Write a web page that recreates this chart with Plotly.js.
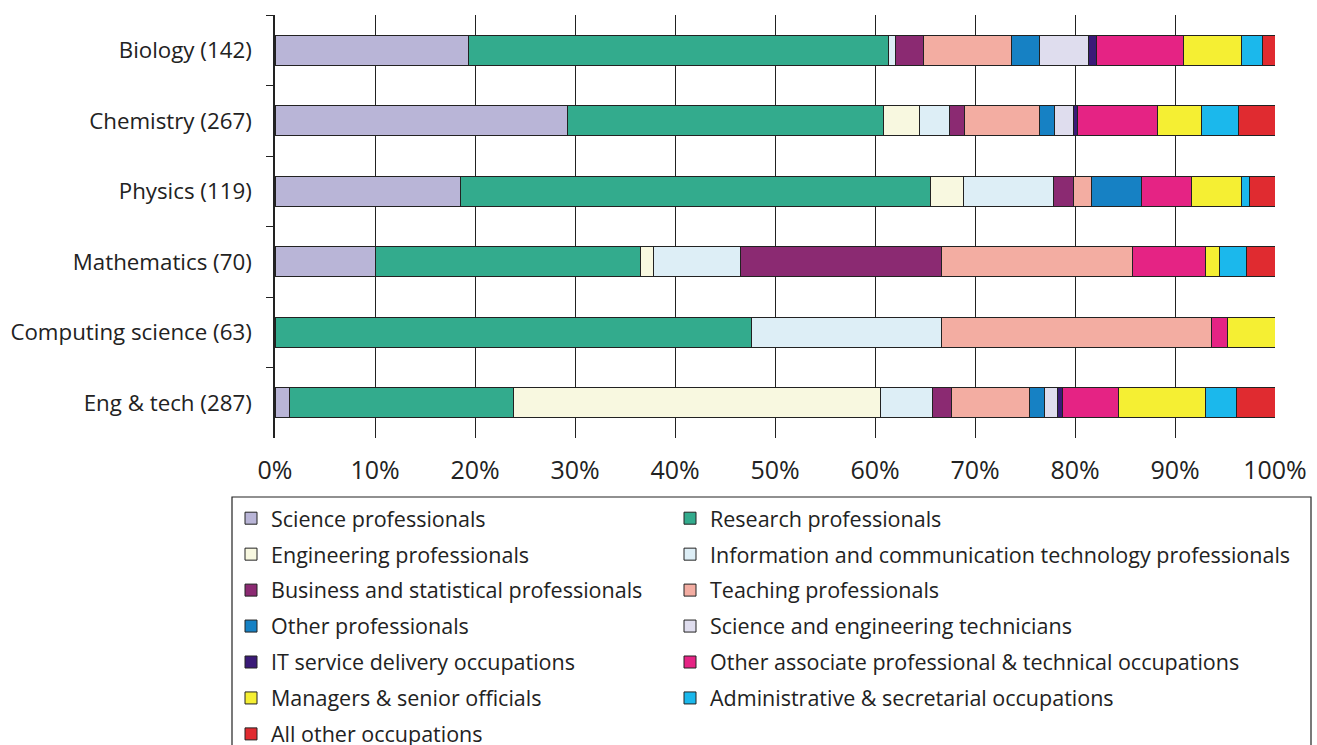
<!DOCTYPE html>
<html>
<head>
<meta charset="utf-8">
<script src="https://cdn.plot.ly/plotly-3.0.1.min.js"></script>
<style>html,body{margin:0;padding:0;background:#fff;}#chart{width:1317px;height:745px;}</style>
</head>
<body>
<div id="chart"></div>
<script>
// Categories (top to bottom)
var categories = ["Biology (142)", "Chemistry (267)", "Physics (119)", "Mathematics (70)", "Computing science (63)", "Eng & tech (287)"];

// Series names
var seriesNames = [
  "Science professionals",
  "Research professionals",
  "Engineering professionals",
  "Information and communication technology professionals",
  "Business and statistical professionals",
  "Teaching professionals",
  "Other professionals",
  "Science and engineering technicians",
  "IT service delivery occupations",
  "Other associate professional & technical occupations",
  "Managers & senior officials",
  "Administrative & secretarial occupations",
  "All other occupations"
];

// Percent values per category (Biology, Chemistry, Physics, Mathematics, Computing science, Eng & tech)
var scienceProfessionals   = [19.3, 29.2, 18.5, 10.0, null, 1.4];
var researchProfessionals  = [42.0, 31.6, 47.0, 26.5, 47.6, 22.4];
var engineeringProfessionals = [null, 3.6, 3.3, 1.3, null, 36.7];
var ictProfessionals       = [0.7, 3.0, 9.0, 8.7, 19.0, 5.2];
var businessProfessionals  = [2.8, 1.5, 2.0, 20.1, null, 1.9];
var teachingProfessionals  = [8.8, 7.5, 1.8, 19.1, 27.0, 7.8];
var otherProfessionals     = [2.8, 1.5, 5.0, null, null, 1.5];
var sciEngTechnicians      = [4.9, 1.9, null, null, null, 1.3];
var itServiceOccupations   = [0.8, 0.4, null, null, null, 0.5];
var otherAssociate         = [8.7, 8.0, 5.0, 7.3, 1.6, 5.6];
var managersOfficials      = [5.8, 4.4, 5.0, 1.4, 4.8, 8.7];
var adminSecretarial       = [2.1, 3.7, 0.8, 2.7, null, 3.1];
var allOtherOccupations    = [1.3, 3.7, 2.6, 2.9, null, 3.9];

var seriesValues = [scienceProfessionals, researchProfessionals, engineeringProfessionals, ictProfessionals,
  businessProfessionals, teachingProfessionals, otherProfessionals, sciEngTechnicians, itServiceOccupations,
  otherAssociate, managersOfficials, adminSecretarial, allOtherOccupations];

// X tick values / labels
var xTickVals = [0, 10, 20, 30, 40, 50, 60, 70, 80, 90, 100];
var xTickText = ["0%", "10%", "20%", "30%", "40%", "50%", "60%", "70%", "80%", "90%", "100%"];

var colors = ["#b9b5d7", "#33ab8d", "#f8f8e0", "#ddeef6", "#8b2a72", "#f3ada2", "#1681c4",
  "#dfddee", "#3a1a77", "#e52384", "#f5ef33", "#1bb8ec", "#e02b30"];

var FONT = "Open Sans, Noto Sans, sans-serif";
var LEGEND_FONT = { family: FONT, size: 21.5, color: "#222" };

var traces = seriesNames.map(function (name, i) {
  return {
    type: "bar",
    orientation: "h",
    name: name,
    legendgroup: name,
    legend: (i % 2 === 0) ? "legend" : "legend2",
    y: categories,
    x: seriesValues[i],
    marker: { color: colors[i], line: { color: "#222", width: 1 } },
    hoverinfo: "name+x"
  };
});

function legendBox(xPos) {
  return {
    orientation: "v",
    traceorder: "grouped",
    tracegroupgap: 5,
    maxheight: 700,
    x: xPos,
    xanchor: "left",
    y: -0.1412,
    yanchor: "top",
    bgcolor: "rgba(0,0,0,0)",
    borderwidth: 0,
    font: LEGEND_FONT
  };
}

var layout = {
  width: 1317,
  height: 745,
  barmode: "stack",
  bargap: 0.575,
  paper_bgcolor: "#fff",
  plot_bgcolor: "#fff",
  font: { family: FONT, size: 20, color: "#222" },
  margin: { l: 275, r: 42, t: 15, b: 307, pad: 0, autoexpand: false },
  xaxis: {
    range: [0, 100],
    tickvals: xTickVals,
    ticktext: xTickText,
    showgrid: true,
    gridcolor: "#222",
    gridwidth: 1.3,
    zeroline: false,
    showline: false,
    ticks: "",
    ticklabelstandoff: 15,
    tickfont: { family: FONT, size: 25, color: "#222" },
    fixedrange: true
  },
  yaxis: {
    type: "category",
    categoryorder: "array",
    categoryarray: categories,
    autorange: "reversed",
    showgrid: false,
    showline: true,
    linecolor: "#222",
    linewidth: 1.6,
    ticks: "outside",
    tickson: "boundaries",
    ticklen: 7,
    tickwidth: 1.3,
    tickcolor: "#222",
    ticklabelstandoff: 17,
    tickfont: { family: FONT, size: 22.3, color: "#222" },
    fixedrange: true
  },
  showlegend: true,
  legend: legendBox(-0.044),
  legend2: legendBox(0.395),
  shapes: [{
    type: "rect",
    xref: "paper", yref: "paper",
    x0: -0.043, x1: 1.036,
    y0: -0.85, y1: -0.1395,
    line: { color: "#222", width: 1.2 },
    fillcolor: "rgba(0,0,0,0)",
    layer: "below"
  }]
};

Plotly.newPlot("chart", traces, layout, { displayModeBar: false });
</script>
</body>
</html>
